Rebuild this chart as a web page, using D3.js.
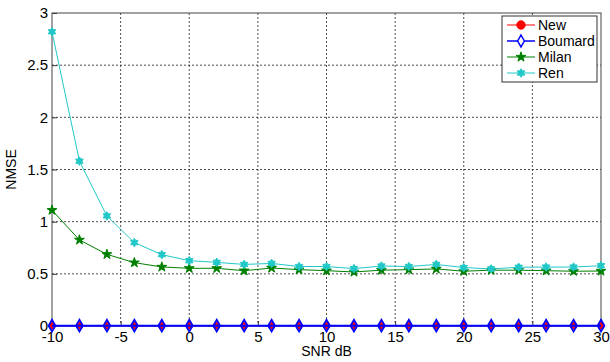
<!DOCTYPE html>
<html>
<head>
<meta charset="utf-8">
<script src="https://cdn.jsdelivr.net/npm/d3@7"></script>
<style>
  body { margin: 0; background: #fff; }
  svg text { font-family: "Liberation Sans", Arial, sans-serif; fill: #000; }
</style>
</head>
<body>
<div id="chart"></div>
<script>
// data
const snr = [-10, -8, -6, -4, -2, 0, 2, 4, 6, 8, 10, 12, 14, 16, 18, 20, 22, 24, 26, 28, 30];
const newVals = snr.map(() => 0.003);
const boumardVals = snr.map(() => 0.003);
const milanVals = [1.11, 0.825, 0.687, 0.607, 0.566, 0.553, 0.553, 0.53, 0.556, 0.54, 0.53, 0.518, 0.535, 0.54, 0.547, 0.525, 0.535, 0.535, 0.53, 0.525, 0.527];
const renVals = [2.82, 1.58, 1.055, 0.8, 0.684, 0.626, 0.61, 0.59, 0.6, 0.57, 0.57, 0.55, 0.575, 0.57, 0.59, 0.56, 0.547, 0.563, 0.565, 0.565, 0.578];
const xTicks = [-10, -5, 0, 5, 10, 15, 20, 25, 30];
const yTicks = [0, 0.5, 1, 1.5, 2, 2.5, 3];

const W = 610, H = 362;
const margin = {top: 13, right: 9, bottom: 36, left: 52};
const width = W - margin.left - margin.right,
      height = H - margin.top - margin.bottom;

const svg = d3.select("#chart").append("svg")
    .attr("width", W).attr("height", H);
const g = svg.append("g")
    .attr("transform", `translate(${margin.left},${margin.top})`);

const x = d3.scaleLinear().domain([-10, 30]).range([0, width]);
const y = d3.scaleLinear().domain([0, 3]).range([height, 0]);

const fmt = d => String(d); // plain hyphen minus like matlab

// grid
g.append("g").selectAll("line").data(xTicks.slice(1, -1)).join("line")
    .attr("x1", d => x(d)).attr("x2", d => x(d))
    .attr("y1", 0).attr("y2", height)
    .attr("stroke", "#222").attr("stroke-width", 0.8).attr("stroke-dasharray", "2,2");
g.append("g").selectAll("line").data(yTicks.slice(1, -1)).join("line")
    .attr("y1", d => y(d)).attr("y2", d => y(d))
    .attr("x1", 0).attr("x2", width)
    .attr("stroke", "#222").attr("stroke-width", 0.8).attr("stroke-dasharray", "2,2");

// axes (ticks inside like matlab)
const xAxis = g.append("g").attr("transform", `translate(0,${height})`)
    .call(d3.axisBottom(x).tickValues(xTicks).tickSizeInner(-5).tickSizeOuter(0).tickPadding(5).tickFormat(fmt));
const yAxis = g.append("g")
    .call(d3.axisLeft(y).tickValues(yTicks).tickSizeInner(-5).tickSizeOuter(0).tickPadding(4).tickFormat(fmt));
[xAxis, yAxis].forEach(a => {
  a.select(".domain").remove();
  a.selectAll("line").attr("stroke", "#333");
  a.selectAll("text").attr("font-size", 15).attr("font-family", "Liberation Sans, Arial, sans-serif");
});

// box
g.append("rect").attr("width", width).attr("height", height)
    .attr("fill", "none").attr("stroke", "#444").attr("stroke-width", 1);

// hexagram symbol for Ren
const hexagram = {
  draw(ctx, size) {
    const r = Math.sqrt(size / 2.2), ri = r * 0.58;
    for (let i = 0; i < 12; i++) {
      const a = -Math.PI / 2 + i * Math.PI / 6;
      const rr = i % 2 === 0 ? r : ri;
      if (i === 0) ctx.moveTo(rr * Math.cos(a), rr * Math.sin(a));
      else ctx.lineTo(rr * Math.cos(a), rr * Math.sin(a));
    }
    ctx.closePath();
  }
};

const series = [
  {name: "New", vals: newVals, color: "#ff0000", sym: d3.symbolCircle, size: 32, fill: "#ff0000", lw: 1},
  {name: "Boumard", vals: boumardVals, color: "#0000ff", sym: d3.symbolDiamond, size: 40, fill: "none", lw: 2},
  {name: "Milan", vals: milanVals, color: "#008000", sym: d3.symbolStar, size: 30, fill: "#008000", lw: 1},
  {name: "Ren", vals: renVals, color: "#22c8c8", sym: hexagram, size: 40, fill: "#22c8c8", lw: 1}
];

const line = d3.line().x(d => x(d[0])).y(d => y(d[1]));

series.forEach(s => {
  const pts = snr.map((v, i) => [v, s.vals[i]]);
  g.append("path").datum(pts)
      .attr("fill", "none").attr("stroke", s.color).attr("stroke-width", s.lw)
      .attr("d", line);
  g.append("g").selectAll("path").data(pts).join("path")
      .attr("transform", d => `translate(${x(d[0])},${y(d[1])})`)
      .attr("d", d3.symbol(s.sym, s.size))
      .attr("fill", s.fill)
      .attr("stroke", s.color)
      .attr("stroke-width", s.name === "Boumard" ? 1.8 : 1);
});

// axis titles
svg.append("text").attr("x", margin.left + x(10)).attr("y", 356)
    .attr("text-anchor", "middle").attr("font-size", 14).text("SNR dB");
svg.append("text").attr("transform", `translate(16,${margin.top + height / 2}) rotate(-90)`)
    .attr("text-anchor", "middle").attr("font-size", 14).text("NMSE");

// legend
const lg = svg.append("g").attr("transform", "translate(502,16)");
lg.append("rect").attr("width", 95).attr("height", 66)
    .attr("fill", "#fff").attr("stroke", "#333").attr("stroke-width", 1);
series.forEach((s, i) => {
  const yy = 9 + i * 16;
  lg.append("line").attr("x1", 5).attr("x2", 33).attr("y1", yy).attr("y2", yy)
      .attr("stroke", s.color).attr("stroke-width", s.name === "Boumard" ? 1.5 : 1);
  lg.append("path").attr("transform", `translate(19,${yy})`)
      .attr("d", d3.symbol(s.sym, s.name === "New" ? 55 : s.size))
      .attr("fill", s.name === "Boumard" ? "#fff" : s.fill)
      .attr("stroke", s.color).attr("stroke-width", s.name === "Boumard" ? 1.5 : 1);
  lg.append("text").attr("x", 36).attr("y", yy).attr("dy", "0.35em")
      .attr("font-size", 14).text(s.name);
});
</script>
</body>
</html>
